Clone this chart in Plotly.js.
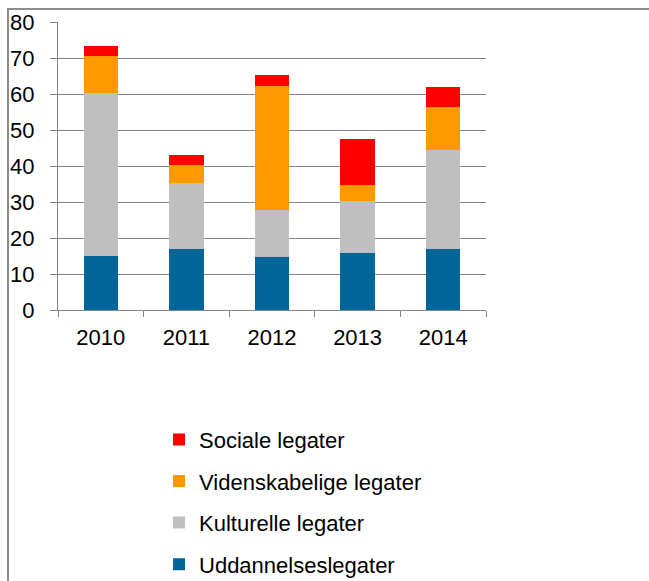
<!DOCTYPE html>
<html>
<head>
<meta charset="utf-8">
<script src="https://cdn.plot.ly/plotly-3.0.1.min.js"></script>
<style>html,body{margin:0;padding:0;background:#fff;}#chart{width:649px;height:581px;}</style>
</head>
<body>
<div id="chart"></div>
<script>
const years = ["2010", "2011", "2012", "2013", "2014"];
const uddannelses = [15.0, 16.9, 14.7, 15.8, 16.9];
const kulturelle = [45.2, 18.3, 13.1, 14.6, 27.6];
const videnskabelige = [10.4, 5.1, 34.4, 4.4, 11.9];
const sociale = [2.7, 2.8, 3.1, 12.6, 5.5];
const seriesNames = ["Uddannelseslegater", "Kulturelle legater", "Videnskabelige legater", "Sociale legater"];
const seriesColors = ["#00669A", "#BFBFBF", "#FF9900", "#FF0000"];
const seriesValues = [uddannelses, kulturelle, videnskabelige, sociale];

const traces = seriesValues.map((vals, i) => ({
  type: "bar",
  x: years,
  y: vals,
  name: seriesNames[i],
  legendgroup: "g" + i,
  legendrank: 1000 - i,
  marker: {color: seriesColors[i], line: {width: 0}},
  hoverinfo: "y+name"
}));

const fam = "Liberation Sans, Arial, sans-serif";
const font = {family: fam, size: 22, color: "#000"};

const layout = {
  width: 649, height: 581,
  margin: {l: 58, r: 163, t: 22, b: 271, pad: 0, autoexpand: false},
  paper_bgcolor: "#fff", plot_bgcolor: "#fff",
  barmode: "stack",
  bargap: 0.6,
  font: font,
  showlegend: true,
  legend: {
    x: 0.236, xanchor: "left", y: -0.377, yanchor: "top",
    traceorder: "grouped", tracegroupgap: 10,
    font: {family: fam, size: 22, color: "#000"},
    bgcolor: "rgba(0,0,0,0)"
  },
  xaxis: {
    type: "category",
    showline: true, linecolor: "#868686", linewidth: 1,
    ticks: "outside", tickson: "boundaries", ticklen: 6, tickcolor: "#868686", tickwidth: 1,
    showgrid: false, zeroline: false,
    ticklabelstandoff: 8,
    tickfont: {family: fam, size: 22, color: "#000"}
  },
  yaxis: {
    range: [0, 80], dtick: 10, tick0: 0,
    showline: true, linecolor: "#868686", linewidth: 1,
    ticks: "outside", ticklen: 7, tickcolor: "#868686", tickwidth: 1,
    showgrid: true, gridcolor: "#868686", gridwidth: 1,
    zeroline: false,
    ticklabelstandoff: 11,
    tickfont: {family: fam, size: 22, color: "#000"}
  },
  shapes: [{
    type: "rect", xref: "paper", yref: "paper",
    x0: -0.1168, x1: 3, y0: -3, y1: 1.0451,
    line: {color: "#8C8C8C", width: 2}, fillcolor: "rgba(0,0,0,0)", layer: "below"
  }]
};

Plotly.newPlot("chart", traces, layout, {displayModeBar: false, staticPlot: true});
</script>
</body>
</html>
